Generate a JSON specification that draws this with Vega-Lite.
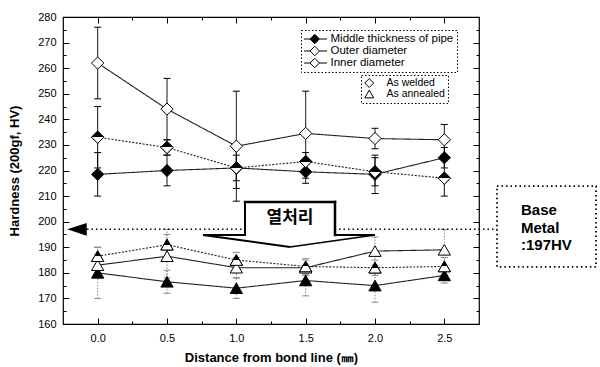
{
  "$schema": "https://vega.github.io/schema/vega-lite/v6.json",
  "width": 416,
  "height": 307,
  "autosize": {"type": "none"},
  "padding": {"left": 63, "top": 17, "right": 121, "bottom": 43},
  "background": "white",
  "config": {
    "view": {"stroke": "black", "strokeWidth": 1.2},
    "axis": {
      "labelFont": "Liberation Sans",
      "labelFontSize": 11,
      "labelColor": "black",
      "titleFont": "Liberation Sans",
      "titleFontSize": 13,
      "titleFontWeight": "bold",
      "titleColor": "black",
      "tickColor": "black",
      "tickWidth": 1,
      "domain": false,
      "grid": false,
      "labelOverlap": false,
      "labelFlush": false
    },
    "legend": {
      "labelFont": "Liberation Sans",
      "labelFontSize": 10,
      "labelColor": "black",
      "strokeDash": [1.5, 2],
      "strokeWidth": 1,
      "padding": 3
    }
  },
  "data": {
    "values": [
      {"x": 0, "v": 218.5, "lo": 210, "hi": 227, "pos": "Middle thickness of pipe", "state": "As welded"},
      {"x": 0.5, "v": 220, "lo": 214, "hi": 226, "pos": "Middle thickness of pipe", "state": "As welded"},
      {"x": 1, "v": 221, "lo": 213, "hi": 229, "pos": "Middle thickness of pipe", "state": "As welded"},
      {"x": 1.5, "v": 219.5, "lo": 215, "hi": 224, "pos": "Middle thickness of pipe", "state": "As welded"},
      {"x": 2, "v": 218.5, "lo": 211, "hi": 226, "pos": "Middle thickness of pipe", "state": "As welded"},
      {"x": 2.5, "v": 225, "lo": 221, "hi": 229, "pos": "Middle thickness of pipe", "state": "As welded"},
      {"x": 0, "v": 233, "lo": 221, "hi": 245, "pos": "Outer diameter", "state": "As welded"},
      {"x": 0.5, "v": 229, "lo": 226, "hi": 232, "pos": "Outer diameter", "state": "As welded"},
      {"x": 1, "v": 221, "lo": 216, "hi": 226, "pos": "Outer diameter", "state": "As welded"},
      {"x": 1.5, "v": 223.5, "lo": 220, "hi": 227, "pos": "Outer diameter", "state": "As welded"},
      {"x": 2, "v": 219.5, "lo": 214, "hi": 225, "pos": "Outer diameter", "state": "As welded"},
      {"x": 2.5, "v": 217, "lo": 210, "hi": 224, "pos": "Outer diameter", "state": "As welded"},
      {"x": 0, "v": 262, "lo": 248, "hi": 276, "pos": "Inner diameter", "state": "As welded"},
      {"x": 0.5, "v": 244, "lo": 232, "hi": 256, "pos": "Inner diameter", "state": "As welded"},
      {"x": 1, "v": 229.5, "lo": 208, "hi": 251, "pos": "Inner diameter", "state": "As welded"},
      {"x": 1.5, "v": 234.5, "lo": 217, "hi": 251, "pos": "Inner diameter", "state": "As welded"},
      {"x": 2, "v": 232.5, "lo": 228.5, "hi": 236.5, "pos": "Inner diameter", "state": "As welded"},
      {"x": 2.5, "v": 232, "lo": 226, "hi": 238, "pos": "Inner diameter", "state": "As welded"},
      {"x": 0, "v": 180, "lo": 170, "hi": 190, "pos": "Middle thickness of pipe", "state": "As annealed"},
      {"x": 0.5, "v": 176.5, "lo": 172, "hi": 181, "pos": "Middle thickness of pipe", "state": "As annealed"},
      {"x": 1, "v": 174, "lo": 170, "hi": 178, "pos": "Middle thickness of pipe", "state": "As annealed"},
      {"x": 1.5, "v": 177, "lo": 171, "hi": 183, "pos": "Middle thickness of pipe", "state": "As annealed"},
      {"x": 2, "v": 175, "lo": 168.5, "hi": 181.5, "pos": "Middle thickness of pipe", "state": "As annealed"},
      {"x": 2.5, "v": 179, "lo": 176, "hi": 182, "pos": "Middle thickness of pipe", "state": "As annealed"},
      {"x": 0, "v": 186.5, "lo": 183, "hi": 190, "pos": "Outer diameter", "state": "As annealed"},
      {"x": 0.5, "v": 191, "lo": 185, "hi": 197, "pos": "Outer diameter", "state": "As annealed"},
      {"x": 1, "v": 185, "lo": 182, "hi": 188, "pos": "Outer diameter", "state": "As annealed"},
      {"x": 1.5, "v": 182.5, "lo": 179.5, "hi": 185.5, "pos": "Outer diameter", "state": "As annealed"},
      {"x": 2, "v": 182, "lo": 179, "hi": 185, "pos": "Outer diameter", "state": "As annealed"},
      {"x": 2.5, "v": 182.5, "lo": 179, "hi": 186, "pos": "Outer diameter", "state": "As annealed"},
      {"x": 0, "v": 183, "lo": 179, "hi": 187, "pos": "Inner diameter", "state": "As annealed"},
      {"x": 0.5, "v": 186.5, "lo": 178, "hi": 195, "pos": "Inner diameter", "state": "As annealed"},
      {"x": 1, "v": 182, "lo": 178, "hi": 186, "pos": "Inner diameter", "state": "As annealed"},
      {"x": 1.5, "v": 182, "lo": 179, "hi": 185, "pos": "Inner diameter", "state": "As annealed"},
      {"x": 2, "v": 188.5, "lo": 183, "hi": 194, "pos": "Inner diameter", "state": "As annealed"},
      {"x": 2.5, "v": 189, "lo": 181, "hi": 197, "pos": "Inner diameter", "state": "As annealed"}
    ]
  },
  "layer": [
    {
      "layer": [
        {
          "encoding": {
            "x": {
              "field": "x", "type": "quantitative",
              "scale": {"domain": [-0.25, 2.75], "nice": false, "zero": false},
              "axis": null
            },
            "y": {
              "field": "v", "type": "quantitative",
              "scale": {"domain": [160, 280], "nice": false, "zero": false},
              "axis": null
            }
          },
          "layer": [
            {
              "mark": {"type": "rule", "strokeWidth": 1},
              "encoding": {
                "y": {"field": "lo", "type": "quantitative", "axis": null},
                "y2": {"field": "hi"},
                "color": {"condition": {"test": "datum.state==='As welded'", "value": "black"}, "value": "#888888"},
                "strokeDash": {"condition": {"test": "datum.state==='As welded'", "value": [1, 0]}, "value": [1.5, 1.5]}
              }
            },
            {
              "mark": {"type": "rule", "strokeWidth": 1, "xOffset": -3.5, "x2Offset": 3.5},
              "encoding": {
                "x2": {"field": "x"},
                "y": {"field": "lo", "type": "quantitative", "axis": null},
                "color": {"condition": {"test": "datum.state==='As welded'", "value": "black"}, "value": "#888888"}
              }
            },
            {
              "mark": {"type": "rule", "strokeWidth": 1, "xOffset": -3.5, "x2Offset": 3.5},
              "encoding": {
                "x2": {"field": "x"},
                "y": {"field": "hi", "type": "quantitative", "axis": null},
                "color": {"condition": {"test": "datum.state==='As welded'", "value": "black"}, "value": "#888888"}
              }
            },
            {
              "mark": {"type": "line", "strokeWidth": 1.1, "color": "#222222"},
              "encoding": {
                "detail": [{"field": "pos"}, {"field": "state"}],
                "strokeDash": {"condition": {"test": "datum.pos==='Outer diameter'", "value": [2, 1.5]}, "value": [1, 0]}
              }
            },
            {
              "mark": {"type": "point", "filled": true, "stroke": "black", "strokeWidth": 1, "size": 150, "opacity": 1},
              "encoding": {
                "shape": {
                  "field": "state", "type": "nominal",
                  "scale": {"domain": ["As welded", "As annealed"], "range": ["diamond", "triangle-up"]},
                  "legend": {
                    "title": null, "orient": "none", "legendX": 298, "legendY": 58,
                    "strokeColor": "black", "symbolFillColor": "white", "symbolStrokeColor": "black",
                    "symbolStrokeWidth": 1, "symbolSize": 80, "labelOffset": 12, "rowPadding": 0,
                    "clipHeight": 10, "labelFontSize": 10.5
                  }
                },
                "fill": {
                  "field": "pos", "type": "nominal",
                  "scale": {
                    "domain": ["Middle thickness of pipe", "Outer diameter", "Inner diameter"],
                    "range": ["black", "white", "white"]
                  },
                  "legend": {
                    "title": null, "orient": "none", "legendX": 238, "legendY": 13,
                    "strokeColor": "black",
                    "symbolType": "M-2.6,0L-1,0M1,0L2.6,0M0,-1L1,0L0,1L-1,0Z",
                    "symbolSize": 90, "symbolStrokeColor": "black", "symbolStrokeWidth": 1,
                    "symbolOffset": 5, "labelOffset": 10, "rowPadding": 0, "clipHeight": 12,
                    "labelFontSize": 11.5,
                    "encode": {
                      "symbols": {
                        "update": {
                          "fill": [
                            {"test": "datum.value === 'Outer diameter'", "value": {"gradient": "linear", "x1": 0, "y1": 0, "x2": 0, "y2": 1, "stops": [{"offset": 0, "color": "black"}, {"offset": 0.5, "color": "black"}, {"offset": 0.5, "color": "white"}, {"offset": 1, "color": "white"}]}},
                            {"scale": "fill", "field": "value"}
                          ]
                        }
                      }
                    }
                  }
                }
              }
            },
            {
              "transform": [{"filter": "datum.pos === 'Outer diameter'"}],
              "mark": {"type": "point", "filled": true, "stroke": "black", "strokeWidth": 1, "size": 150, "opacity": 1,
                "fill": {"gradient": "linear", "x1": 0, "y1": 0, "x2": 0, "y2": 1, "stops": [{"offset": 0, "color": "black"}, {"offset": 0.5, "color": "black"}, {"offset": 0.5, "color": "white"}, {"offset": 1, "color": "white"}]}},
              "encoding": {
                "shape": {"field": "state", "type": "nominal"}
              }
            }
          ]
        },
        {
          "data": {"values": [{}]},
          "mark": {"type": "rule", "strokeDash": [1.5, 3], "strokeWidth": 1.5, "color": "black"},
          "encoding": {
            "x": {"datum": -0.077, "type": "quantitative", "axis": null},
            "x2": {"datum": 2.88},
            "y": {"datum": 197, "type": "quantitative", "axis": null}
          }
        },
        {
          "data": {"values": [{}]},
          "mark": {"type": "point", "shape": "M-1,0L1,-0.65L1,0.65Z", "filled": true, "color": "black", "size": 380, "opacity": 1},
          "encoding": {
            "x": {"datum": -0.149, "type": "quantitative", "axis": null},
            "y": {"datum": 197, "type": "quantitative", "axis": null}
          }
        },
        {
          "data": {"values": [{}]},
          "mark": {"type": "rect", "fill": "white", "strokeWidth": 0},
          "encoding": {
            "x": {"datum": 1.0625, "type": "quantitative", "axis": null},
            "x2": {"datum": 1.7115},
            "y": {"datum": 207.7, "type": "quantitative", "axis": null},
            "y2": {"datum": 194.8}
          }
        },
        {
          "data": {"values": [{}]},
          "mark": {"type": "rule", "strokeWidth": 2, "color": "black", "strokeCap": "square"},
          "encoding": {
            "x": {"datum": 1.0625, "type": "quantitative", "axis": null},
            "x2": {"datum": 1.0625},
            "y": {"datum": 207.7, "type": "quantitative", "axis": null},
            "y2": {"datum": 194.8}
          }
        },
        {
          "data": {"values": [{}]},
          "mark": {"type": "rule", "strokeWidth": 2.5, "color": "black", "strokeCap": "square"},
          "encoding": {
            "x": {"datum": 1.0625, "type": "quantitative", "axis": null},
            "x2": {"datum": 1.7115},
            "y": {"datum": 207.7, "type": "quantitative", "axis": null},
            "y2": {"datum": 207.7}
          }
        },
        {
          "data": {"values": [{}]},
          "mark": {"type": "rule", "strokeWidth": 2.5, "color": "black", "strokeCap": "square"},
          "encoding": {
            "x": {"datum": 1.7115, "type": "quantitative", "axis": null},
            "x2": {"datum": 1.7115},
            "y": {"datum": 207.7, "type": "quantitative", "axis": null},
            "y2": {"datum": 194.8}
          }
        },
        {
          "data": {"values": [{}]},
          "mark": {"type": "rule", "strokeWidth": 2, "color": "black"},
          "encoding": {
            "x": {"datum": 0.7596, "type": "quantitative", "axis": null},
            "x2": {"datum": 1.0625},
            "y": {"datum": 194.8, "type": "quantitative", "axis": null},
            "y2": {"datum": 194.8}
          }
        },
        {
          "data": {"values": [{}]},
          "mark": {"type": "rule", "strokeWidth": 2, "color": "black"},
          "encoding": {
            "x": {"datum": 1.7115, "type": "quantitative", "axis": null},
            "x2": {"datum": 2.0},
            "y": {"datum": 194.8, "type": "quantitative", "axis": null},
            "y2": {"datum": 194.8}
          }
        },
        {
          "data": {"values": [{}]},
          "mark": {"type": "rule", "strokeWidth": 2, "color": "black"},
          "encoding": {
            "x": {"datum": 0.7596, "type": "quantitative", "axis": null},
            "x2": {"datum": 1.387},
            "y": {"datum": 194.8, "type": "quantitative", "axis": null},
            "y2": {"datum": 190.1}
          }
        },
        {
          "data": {"values": [{}]},
          "mark": {"type": "rule", "strokeWidth": 1.5, "color": "black"},
          "encoding": {
            "x": {"datum": 2.0, "type": "quantitative", "axis": null},
            "x2": {"datum": 1.387},
            "y": {"datum": 194.8, "type": "quantitative", "axis": null},
            "y2": {"datum": 190.1}
          }
        },
        {
          "data": {"values": [{}]},
          "mark": {"type": "text", "text": "열처리", "font": "Noto Sans CJK KR", "fontSize": 17, "fontWeight": "bold", "align": "center", "baseline": "middle", "color": "black"},
          "encoding": {
            "x": {"datum": 1.387, "type": "quantitative", "axis": null},
            "y": {"datum": 201.3, "type": "quantitative", "axis": null}
          }
        },
        {
          "data": {"values": [{}]},
          "mark": {"type": "rect", "fill": "white", "fillOpacity": 0, "stroke": "black", "strokeWidth": 1.8, "strokeDash": [1.5, 3]},
          "encoding": {
            "x": {"datum": 2.88, "type": "quantitative", "axis": null},
            "x2": {"datum": 3.594},
            "y": {"datum": 213.9, "type": "quantitative", "axis": null},
            "y2": {"datum": 182.3}
          }
        },
        {
          "data": {"values": [{}]},
          "mark": {"type": "text", "text": ["Base", "Metal", ":197HV"], "font": "Liberation Sans", "fontSize": 15, "fontWeight": "bold", "lineHeight": 17.5, "align": "left", "baseline": "middle", "color": "black"},
          "encoding": {
            "x": {"datum": 3.053, "type": "quantitative", "axis": null},
            "y": {"datum": 204.5, "type": "quantitative", "axis": null}
          }
        }
      ]
    },
    {
      "data": {"values": [{}]},
      "mark": {"type": "rule", "opacity": 0},
      "encoding": {
        "x": {
          "datum": 0, "type": "quantitative",
          "axis": {
            "orient": "bottom", "title": "Distance from bond line (㎜)",
            "values": [0, 0.5, 1, 1.5, 2, 2.5],
            "format": ".1f",
            "tickSize": -6,
            "labelPadding": 14,
            "titlePadding": 8
          }
        },
        "y": {
          "datum": 200, "type": "quantitative",
          "axis": {
            "orient": "left", "title": "Hardness (200gf, HV)",
            "values": [160, 170, 180, 190, 200, 210, 220, 230, 240, 250, 260, 270, 280],
            "tickSize": -6,
            "labelPadding": 13,
            "titlePadding": 16
          }
        }
      }
    },
    {
      "data": {"values": [{}]},
      "mark": {"type": "rule", "opacity": 0},
      "encoding": {
        "x": {
          "datum": 0, "type": "quantitative",
          "axis": {
            "orient": "top", "title": null, "labels": false,
            "values": [0, 0.5, 1, 1.5, 2, 2.5],
            "tickSize": -6
          }
        },
        "y": {
          "datum": 200, "type": "quantitative",
          "axis": {
            "orient": "right", "title": null, "labels": false,
            "values": [160, 170, 180, 190, 200, 210, 220, 230, 240, 250, 260, 270, 280],
            "tickSize": -6
          }
        }
      }
    },
    {
      "data": {"values": [{}]},
      "mark": {"type": "rule", "opacity": 0},
      "encoding": {
        "x": {
          "datum": 0, "type": "quantitative",
          "axis": {
            "orient": "bottom", "title": null, "labels": false,
            "values": [0.25, 0.75, 1.25, 1.75, 2.25],
            "tickSize": -3
          }
        },
        "y": {
          "datum": 200, "type": "quantitative",
          "axis": {
            "orient": "left", "title": null, "labels": false,
            "values": [165, 175, 185, 195, 205, 215, 225, 235, 245, 255, 265, 275],
            "tickSize": -3
          }
        }
      }
    },
    {
      "data": {"values": [{}]},
      "mark": {"type": "rule", "opacity": 0},
      "encoding": {
        "x": {
          "datum": 0, "type": "quantitative",
          "axis": {
            "orient": "top", "title": null, "labels": false,
            "values": [0.25, 0.75, 1.25, 1.75, 2.25],
            "tickSize": -3
          }
        },
        "y": {
          "datum": 200, "type": "quantitative",
          "axis": {
            "orient": "right", "title": null, "labels": false,
            "values": [165, 175, 185, 195, 205, 215, 225, 235, 245, 255, 265, 275],
            "tickSize": -3
          }
        }
      }
    }
  ],
  "resolve": {"axis": {"x": "independent", "y": "independent"}}
}
